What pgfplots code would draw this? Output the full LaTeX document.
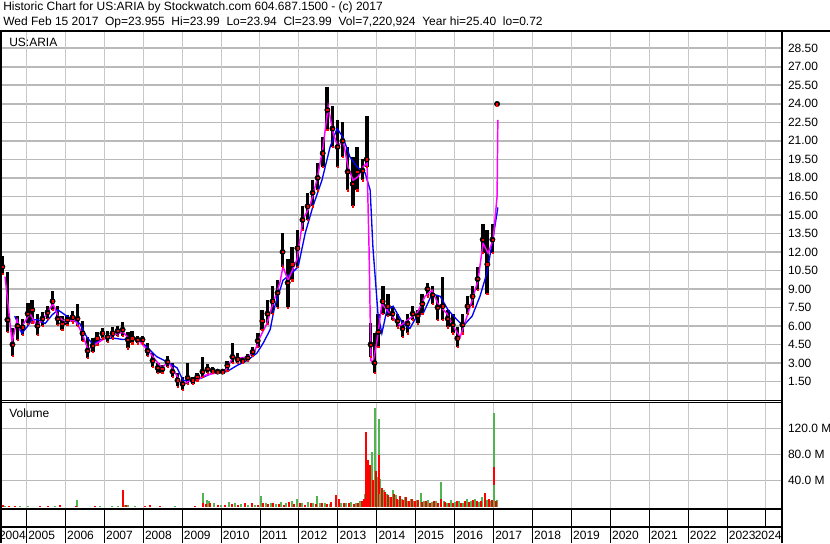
\documentclass[border=0pt]{standalone}
\usepackage{pgfplots}
\pgfplotsset{compat=1.18}
\usepackage{pgfplotstable}
\usepackage{fontspec}
\setmainfont{Liberation Sans}
\definecolor{gridgray}{RGB}{200,200,200}
\definecolor{hgrid}{RGB}{185,185,185}
\definecolor{volgreen}{RGB}{80,180,80}
\definecolor{volred}{RGB}{255,0,0}
\definecolor{maline}{RGB}{255,0,255}
\definecolor{blueline}{RGB}{0,0,255}

% daily range, sampled: year, low, high, close
\pgfplotstableread{
yr lo hi c
2004.38 10.2 11.7 10.8
2004.51 5.5 10.4 6.5
2004.64 3.6 5.8 4.5
2004.77 4.9 6.8 6.0
2004.90 5.3 6.6 5.9
2005.03 6.2 7.9 7.0
2005.15 6.3 8.1 7.3
2005.28 5.3 7.0 6.0
2005.41 6.0 7.1 6.6
2005.54 6.6 7.6 7.1
2005.67 7.3 8.8 8.0
2005.80 6.1 7.6 6.6
2005.92 5.7 6.8 6.2
2006.05 6.1 6.9 6.5
2006.18 6.3 7.2 6.7
2006.31 6.0 7.8 6.6
2006.44 4.8 6.4 5.4
2006.57 3.4 5.1 4.0
2006.70 3.9 5.0 4.4
2006.82 4.5 5.5 5.0
2006.95 5.0 5.8 5.4
2007.08 4.7 5.6 5.1
2007.21 5.0 5.9 5.4
2007.34 5.2 6.0 5.6
2007.47 5.2 6.3 5.7
2007.60 4.2 5.5 4.9
2007.72 4.6 5.6 5.0
2007.85 4.6 5.2 4.9
2007.98 4.6 5.2 4.9
2008.11 3.6 4.6 4.0
2008.24 2.7 3.8 3.2
2008.37 2.2 3.0 2.6
2008.49 2.2 2.8 2.5
2008.62 2.7 3.6 3.1
2008.75 1.9 3.0 2.3
2008.88 1.1 2.2 1.6
2009.01 0.8 1.9 1.3
2009.14 1.3 3.0 1.8
2009.27 1.3 1.9 1.6
2009.39 1.6 2.2 1.9
2009.52 1.9 3.5 2.3
2009.65 2.2 2.9 2.5
2009.78 2.2 2.7 2.4
2009.91 2.2 2.5 2.3
2010.04 2.2 2.5 2.3
2010.16 2.4 3.2 2.8
2010.29 3.0 4.6 3.5
2010.42 3.0 3.8 3.3
2010.55 3.0 3.5 3.2
2010.68 3.2 3.7 3.4
2010.81 3.6 4.3 3.9
2010.94 4.3 5.4 4.8
2011.06 5.7 7.3 6.4
2011.19 6.2 8.1 7.0
2011.32 7.0 9.2 8.0
2011.45 7.5 9.7 8.7
2011.58 10.8 13.5 12.0
2011.71 7.5 11.4 9.5
2011.83 9.7 12.4 11.0
2011.96 10.8 13.8 12.3
2012.09 13.8 15.7 14.6
2012.22 14.6 16.8 15.7
2012.35 15.7 17.8 16.8
2012.48 17.0 19.2 18.0
2012.61 18.9 21.3 20.0
2012.73 21.9 25.4 23.5
2012.86 20.5 23.8 22.0
2012.99 18.9 22.7 20.5
2013.12 19.7 22.5 21.0
2013.25 17.0 20.5 18.5
2013.38 15.7 19.7 17.5
2013.50 17.0 20.5 18.5
2013.63 17.8 19.5 18.6
2013.74 18.9 23.0 19.5
2013.84 3.5 6.2 4.5
2013.94 2.2 5.4 3.0
2014.04 4.3 7.0 5.5
2014.15 7.0 9.2 8.0
2014.28 6.8 8.6 7.6
2014.40 6.5 7.6 7.0
2014.53 5.9 7.0 6.4
2014.66 5.1 6.5 5.8
2014.79 5.4 7.0 6.2
2014.92 6.5 7.6 7.0
2015.05 6.2 7.3 6.8
2015.17 7.0 8.6 7.8
2015.30 8.4 9.5 9.0
2015.43 7.8 9.2 8.5
2015.56 6.5 8.4 7.5
2015.69 6.5 10.0 7.6
2015.82 5.9 7.3 6.6
2015.95 5.4 7.0 6.1
2016.07 4.3 5.9 5.0
2016.20 5.4 7.0 6.1
2016.33 7.0 8.4 7.6
2016.46 7.6 9.2 8.4
2016.59 8.9 10.8 9.8
2016.72 11.9 14.3 13.0
2016.84 8.6 13.8 11.0
2016.97 11.9 14.3 13.0
2017.09 23.85 24.05 23.99
}\pricetab

% short moving average
\pgfplotstableread{
yr v
2004.45 10.0
2004.63 4.7
2004.76 6.5
2004.83 5.7
2005.09 7.0
2005.27 6.0
2005.48 6.8
2005.68 7.8
2005.81 6.8
2005.99 6.3
2006.25 6.5
2006.43 5.4
2006.58 4.1
2006.81 4.6
2007.07 5.1
2007.27 5.3
2007.48 5.5
2007.66 4.9
2007.86 4.9
2008.04 4.3
2008.25 3.5
2008.48 2.6
2008.64 3.1
2008.82 2.2
2009.00 1.2
2009.15 1.5
2009.38 1.6
2009.59 2.0
2009.89 2.2
2010.10 2.3
2010.31 3.5
2010.49 3.4
2010.69 3.5
2010.87 4.0
2011.00 5.1
2011.18 6.2
2011.26 7.1
2011.51 9.5
2011.59 10.8
2011.72 9.7
2011.95 11.4
2012.10 14.6
2012.28 15.7
2012.46 17.8
2012.62 20.5
2012.75 23.8
2012.88 21.6
2013.00 20.5
2013.13 21.1
2013.26 18.9
2013.39 17.8
2013.52 18.1
2013.65 18.9
2013.75 19.2
2013.80 12.4
2013.85 3.2
2013.90 3.0
2014.01 4.9
2014.13 7.8
2014.34 7.0
2014.60 6.0
2014.80 6.5
2015.03 7.0
2015.24 8.4
2015.42 8.9
2015.57 7.8
2015.80 7.0
2015.96 6.0
2016.14 5.1
2016.32 6.8
2016.45 8.1
2016.60 9.7
2016.73 12.7
2016.86 11.9
2016.99 13.0
2017.09 16.5
2017.11 22.7
}\shortma

% long moving average
\pgfplotstableread{
yr v
2004.70 6.8
2004.88 5.4
2005.01 5.9
2005.14 6.5
2005.30 6.5
2005.48 6.2
2005.66 6.9
2005.81 7.3
2005.99 6.9
2006.17 6.5
2006.37 6.2
2006.55 5.1
2006.71 4.5
2006.89 4.9
2007.07 5.0
2007.27 5.0
2007.48 4.9
2007.71 5.0
2007.92 4.8
2008.17 4.05
2008.35 3.5
2008.61 3.1
2008.87 2.6
2009.02 1.6
2009.25 1.5
2009.51 1.8
2009.79 2.2
2010.15 2.3
2010.41 2.8
2010.67 3.2
2010.92 3.8
2011.08 4.6
2011.26 5.7
2011.38 7.6
2011.59 9.7
2011.82 10.3
2011.98 10.8
2012.16 13.5
2012.36 15.7
2012.59 17.8
2012.80 20.5
2012.98 22.0
2013.13 21.3
2013.31 19.7
2013.49 18.9
2013.70 18.4
2013.83 17.0
2013.90 12.4
2014.03 7.0
2014.13 5.4
2014.26 7.3
2014.42 7.6
2014.67 6.2
2014.85 5.8
2015.03 6.8
2015.19 7.0
2015.42 8.6
2015.63 8.4
2015.83 7.3
2016.06 6.5
2016.22 6.0
2016.45 6.8
2016.65 8.4
2016.83 10.3
2016.99 13.2
2017.11 15.6
}\longma

% volume in millions, up days
\pgfplotstableread{
yr v
2004.45 1.5
2004.83 1.0
2005.04 0.8
2005.73 1.0
2006.30 10
2006.89 0.8
2007.20 1.0
2007.35 1.0
2007.53 3.0
2007.61 2.0
2007.79 1.0
2008.82 0.8
2009.54 21
2009.64 10
2009.69 8
2009.82 6
2010.00 3
2010.20 7.7
2010.36 5
2010.51 4
2010.69 3
2010.87 2
2011.03 16
2011.15 5
2011.28 6
2011.41 4
2011.54 7
2011.67 5
2011.82 8
2011.95 12
2012.08 5
2012.23 7
2012.36 6
2012.46 16
2012.54 5
2012.67 6
2012.80 4
2013.08 6
2013.21 5
2013.34 7
2013.47 5
2013.57 9
2013.70 20
2013.75 30
2013.80 45
2013.88 84
2013.95 152
2014.01 46
2014.06 135
2014.08 42
2014.19 26
2014.26 20
2014.34 14
2014.42 25
2014.49 18
2014.57 10
2014.65 12
2014.72 15
2014.80 9
2014.88 11
2014.96 8
2015.03 10
2015.14 21
2015.21 8
2015.32 10
2015.42 7
2015.52 9
2015.65 37
2015.73 8
2015.80 6
2015.91 10
2016.01 7
2016.11 9
2016.21 6
2016.32 11
2016.42 8
2016.52 12
2016.63 7
2016.70 15
2016.83 10
2016.91 9
2017.01 144
2017.09 10
}\volup

% volume in millions, down days
\pgfplotstableread{
yr v
2004.40 2.6
2004.55 1.0
2004.71 1.0
2005.35 0.8
2005.55 1.0
2005.86 2.0
2006.27 1.5
2006.76 1.0
2007.48 25
2007.56 2.0
2008.05 1.0
2008.17 2.0
2008.43 1.0
2009.33 1.0
2009.54 6
2009.61 4
2009.71 5
2009.92 2
2010.10 3
2010.28 4
2010.43 3
2010.61 5
2010.79 6
2010.95 3
2011.08 5
2011.20 4
2011.33 6
2011.49 4
2011.62 3
2011.74 7
2011.87 4
2012.03 5
2012.16 3
2012.31 6
2012.44 4
2012.59 5
2012.72 4
2012.82 7
2012.95 17
2013.03 11
2013.16 5
2013.29 6
2013.41 4
2013.52 5
2013.62 8
2013.67 12
2013.72 115
2013.77 72
2013.83 64
2013.90 41
2013.98 54
2014.06 80
2014.13 28
2014.21 22
2014.29 18
2014.36 15
2014.44 20
2014.52 12
2014.60 16
2014.67 10
2014.75 14
2014.83 9
2014.90 12
2014.98 8
2015.06 10
2015.16 7
2015.26 9
2015.37 6
2015.47 8
2015.57 5
2015.65 12
2015.75 7
2015.85 6
2015.96 5
2016.06 8
2016.16 6
2016.27 9
2016.37 7
2016.47 10
2016.57 8
2016.68 9
2016.78 21
2016.88 12
2016.96 10
2017.01 61
2017.06 8
}\voldown

\begin{document}
\begin{tikzpicture}[font=\fontsize{9}{11}\selectfont]
\useasboundingbox (0pt,0pt) rectangle (622.5pt,407.25pt);
\fill[white] (0pt,0pt) rectangle (622.5pt,407.25pt);

% horizontal grid of both panels, in pixel units of the reference
\begin{scope}[x=0.75pt,y=0.75pt]
\foreach \n in {1,...,19} {
  \draw[hgrid, line width=1.2pt] (2,{143+18.512*\n}) -- (781,{143+18.512*\n});
}
\draw[hgrid, line width=1.2pt] (2,62.47) -- (781,62.47);
\draw[hgrid, line width=1.2pt] (2,88.48) -- (781,88.48);
\draw[hgrid, line width=1.2pt] (2,114.48) -- (781,114.48);
\end{scope}

\pgfplotsset{chartaxis/.style={
  scale only axis, width=586.5pt,
  xmin=2004.32, xmax=2024.41,
  xtick={2005,...,2024}, xticklabels={},
  major tick length=0pt,
  xmajorgrids=true,
  major grid style={gridgray, line width=0.75pt},
  axis line style={draw=none},
  ytick pos=right, yticklabel pos=right,
  yticklabel style={anchor=west, font=\fontsize{9}{11}\selectfont, xshift=1pt},
  /pgf/number format/assume math mode=true,
}}

% price panel: box from 31 px to 400 px below the top
\begin{axis}[chartaxis, at={(0pt,107.25pt)}, anchor=south west, height=276.75pt,
  ymin=0, ymax=29.9, ytick={1.5,3,...,28.5},
  /pgf/number format/fixed, /pgf/number format/fixed zerofill,
  /pgf/number format/precision=2]
\addplot[only marks, mark=none, error bars/.cd, y dir=both, y explicit,
  error mark=none, error bar style={line width=2.8pt, black}]
  table[x=yr, y=c, y error plus expr=\thisrow{hi}-\thisrow{c},
        y error minus expr=\thisrow{c}-\thisrow{lo}] {\pricetab};
\addplot[only marks, mark=square*, mark size=0.45pt, red] table[x=yr, y=c] {\pricetab};
\addplot[only marks, mark=square*, mark size=0.45pt, red] table[x=yr, y=lo] {\pricetab};
\addplot[blueline, line width=1pt, mark=none] table[x=yr, y=v] {\longma};
\addplot[maline, line width=1.1pt, mark=none] table[x=yr, y=v] {\shortma};
\end{axis}

% volume panel: box from 402 px to 509 px below the top
\begin{axis}[chartaxis, at={(0pt,25.5pt)}, anchor=south west, height=80.25pt,
  ymin=-3.8, ymax=160.8, ytick={40,80,120},
  yticklabels={40.0 M,80.0 M,120.0 M}]
\addplot[ycomb, volgreen, line width=1.3pt, mark=none] table[x=yr, y=v] {\volup};
\addplot[ycomb, volred, line width=1.3pt, mark=none] table[x=yr, y=v] {\voldown};
\addplot[ycomb, volgreen, line width=1.3pt, mark=none] coordinates {(2017.01,33) (2014.08,20)};
\end{axis}

\begin{scope}[x=0.75pt,y=0.75pt]
% frame
\draw[line width=1.5pt] (0,512) -- (830,512);
\draw[line width=3pt] (0,0) -- (0,512);
\draw[line width=1.5pt] (782,0) -- (782,512);
\draw[line width=0.75pt] (0,143) -- (782,143);
\draw[line width=0.75pt] (0,140.3) -- (782,140.3);
\draw[line width=1.5pt] (0,34) -- (782,34);
\draw[line width=1.5pt] (0,16) -- (782,16);
\foreach \i in {0,...,18} {
  \draw[line width=0.75pt] ({26.5+38.92*\i},34) -- ({26.5+38.92*\i},0);
}
\draw[line width=0.75pt] ({26.5+38.92*19},34) -- ({26.5+38.92*19},16);

% year labels
\node[anchor=east, inner sep=0pt] at (26,7.5) {2004};
\foreach \i in {0,...,18} {
  \pgfmathtruncatemacro\yr{2005+\i}
  \node[anchor=west, inner sep=0pt] at ({28+38.92*\i},7.5) {\yr};
}
\node[anchor=west, inner sep=0pt] at (754.5,7.5) {2024};

% titles
\node[anchor=west, inner sep=0pt] at (3,535.5) {Historic Chart for US:ARIA by Stockwatch.com 604.687.1500 - (c) 2017};
\node[anchor=west, inner sep=0pt] at (3,521) {Wed Feb 15 2017~~Op=23.955~~Hi=23.99~~Lo=23.94~~Cl=23.99~~Vol=7,220,924~~Year hi=25.40~~lo=0.72};
\node[anchor=west, inner sep=0pt] at (9,501) {US:ARIA};
\node[anchor=west, inner sep=0pt] at (9,130) {Volume};
\end{scope}
\end{tikzpicture}
\end{document}
